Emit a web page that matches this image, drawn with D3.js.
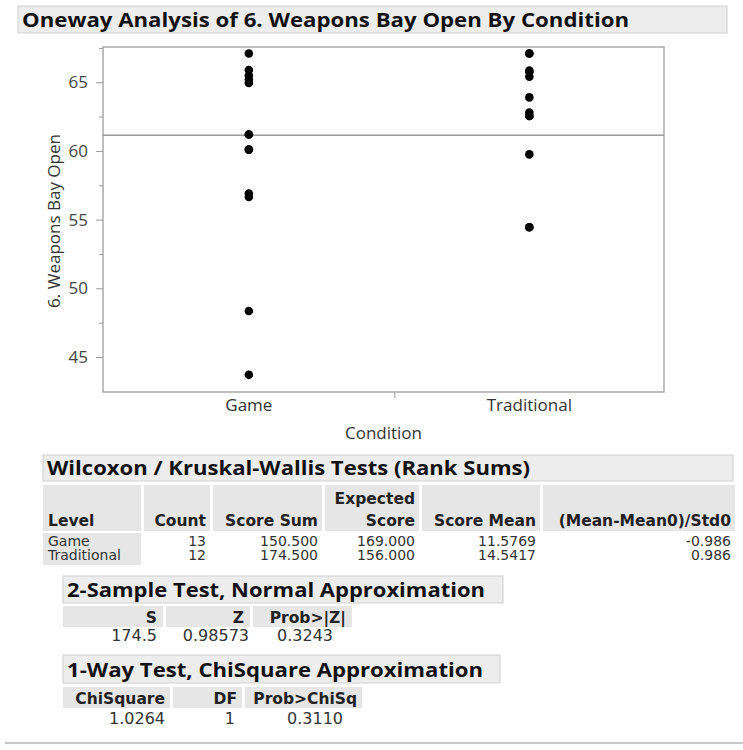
<!DOCTYPE html>
<html>
<head>
<meta charset="utf-8">
<script src="https://cdn.jsdelivr.net/npm/d3@7"></script>
<style>
	body { margin: 0; background: #fff; }
	svg text { font-family: "Open Sans", "DejaVu Sans", sans-serif; }
	svg text.tbl { font-family: "DejaVu Sans", sans-serif; }
</style>
</head>
<body>
<script>
/* Values */
var conditions = ["Game", "Traditional"];
var gameValues = [67.1, 65.9, 65.5, 65.2, 64.95, 61.2, 61.2, 60.1, 60.1, 56.9, 56.65, 48.35, 43.7];
var traditionalValues = [67.1, 67.1, 65.85, 65.75, 65.4, 63.9, 62.8, 62.55, 62.55, 59.75, 54.45, 54.45];
var yTicks = [45, 50, 55, 60, 65];
var yMinorTicks = [47.5, 52.5, 57.5, 62.5, 67.5];

var wilcoxonHead1 = ["", "", "", "Expected", "", ""];
var wilcoxonHead2 = ["Level", "Count", "Score Sum", "Score", "Score Mean", "(Mean-Mean0)/Std0"];
var wilcoxonRows = [
	["Game", "13", "150.500", "169.000", "11.5769", "-0.986"],
	["Traditional", "12", "174.500", "156.000", "14.5417", "0.986"]
];
var twoSampleHead = ["S", "Z", "Prob>|Z|"];
var twoSampleRow = ["174.5", "0.98573", "0.3243"];
var chiHead = ["ChiSquare", "DF", "Prob>ChiSq"];
var chiRow = ["1.0264", "1", "0.3110"];

var W = 743, H = 750;
var svg = d3.select("body").append("svg").attr("width", W).attr("height", H);
svg.append("rect").attr("width", W).attr("height", H).attr("fill", "#fff");

/* Outline bar with a bold heading */
function headerBar(x, y, w, h, label, len){
	svg.append("rect").attr("x", x).attr("y", y).attr("width", w).attr("height", h)
		.attr("fill", "#ededed").attr("stroke", "#d0d0d0");
	svg.append("text").attr("x", x + 4).attr("y", y + h - 6)
		.attr("font-size", 20).attr("font-weight", "bold").attr("fill", "#111")
		.attr("textLength", len).attr("lengthAdjust", "spacingAndGlyphs")
		.text(label);
}

headerBar(18, 6, 709, 27, "Oneway Analysis of 6. Weapons Bay Open By Condition", 607);

/* ---- plot ---- */
var plot = {left: 103, right: 664, top: 47, bottom: 392};
var groups = [gameValues, traditionalValues];
var counts = groups.map(function(g){ return g.length; });
var total = d3.sum(counts);

// JMP gives each level a width proportional to its count
var xc = d3.scaleLinear().domain([0, total]).range([plot.left, plot.right]);
var cum = d3.cumsum(counts);
var centers = conditions.map(function(c, i){ return xc(cum[i] - counts[i] / 2); });
var x = d3.scaleOrdinal().domain(conditions).range(centers);

var y = d3.scaleLinear().domain([42.45, 67.57]).range([plot.bottom, plot.top]);

svg.append("rect").attr("x", plot.left).attr("y", plot.top)
	.attr("width", plot.right - plot.left).attr("height", plot.bottom - plot.top)
	.attr("fill", "none").attr("stroke", "#a9a9a9").attr("stroke-width", 1.5);

var yAxis = svg.append("g").attr("transform", "translate(" + plot.left + ",0)")
	.call(d3.axisLeft(y).tickValues(yTicks).tickSize(7).tickPadding(8));
svg.append("g").attr("transform", "translate(" + plot.left + ",0)")
	.call(d3.axisLeft(y).tickValues(yMinorTicks).tickSize(4).tickFormat(""));
svg.selectAll(".domain").remove();
svg.selectAll(".tick line").attr("stroke", "#999");
yAxis.selectAll("text").attr("font-size", 17).attr("fill", "#444")
	.style("font-family", "'Open Sans', sans-serif");

// boundary tick between the levels
svg.append("line").attr("x1", xc(cum[0])).attr("x2", xc(cum[0]))
	.attr("y1", plot.bottom).attr("y2", plot.bottom + 6).attr("stroke", "#999");

svg.selectAll("text.xlab").data(conditions).enter().append("text")
	.attr("class", "xlab").attr("x", function(d){ return x(d); }).attr("y", 411)
	.attr("text-anchor", "middle").attr("font-size", 17).attr("fill", "#333")
	.text(function(d){ return d; });

svg.append("text").attr("x", (plot.left + plot.right) / 2).attr("y", 439)
	.attr("text-anchor", "middle").attr("font-size", 17).attr("fill", "#333").text("Condition");

svg.append("text").attr("transform", "translate(60,221) rotate(-90)")
	.attr("text-anchor", "middle").attr("font-size", 17).attr("fill", "#333").text("6. Weapons Bay Open");

// grand mean line
var grandMean = d3.mean(d3.merge(groups));
svg.append("line").attr("x1", plot.left).attr("x2", plot.right)
	.attr("y1", y(grandMean)).attr("y2", y(grandMean))
	.attr("stroke", "#9a9a9a").attr("stroke-width", 1.5);

var points = [];
groups.forEach(function(g, i){
	g.forEach(function(v){ points.push({cond: conditions[i], value: v}); });
});
svg.selectAll("circle.pt").data(points).enter().append("circle")
	.attr("class", "pt")
	.attr("cx", function(d){ return x(d.cond); })
	.attr("cy", function(d){ return y(d.value); })
	.attr("r", 4.3).attr("fill", "#000");

/* ---- report tables ---- */
function grayCell(x0, y0, w, h){
	svg.append("rect").attr("x", x0).attr("y", y0).attr("width", w).attr("height", h).attr("fill", "#e6e6e6");
}
function cellText(txt, xPos, yPos, anchor, bold, size){
	svg.append("text").attr("class", "tbl").attr("x", xPos).attr("y", yPos).attr("text-anchor", anchor)
		.attr("font-size", size).attr("font-weight", bold ? "bold" : "normal")
		.attr("fill", bold ? "#222" : "#333").text(txt);
}

headerBar(43, 455, 690, 26, "Wilcoxon / Kruskal-Wallis Tests (Rank Sums)", 483);
var wCols = [[43, 141], [144, 210], [213, 322], [325, 419], [422, 540], [543, 735]];
wCols.forEach(function(c, i){
	grayCell(c[0], 485, c[1] - c[0], 46);
	var anchor = i === 0 ? "start" : "end";
	var tx = i === 0 ? c[0] + 5 : c[1] - 4;
	if(wilcoxonHead1[i]) cellText(wilcoxonHead1[i], tx, 504, anchor, true, 15.5);
	cellText(wilcoxonHead2[i], tx, 526, anchor, true, 15.5);
});
grayCell(43, 533, 98, 32);
wilcoxonRows.forEach(function(row, r){
	row.forEach(function(v, i){
		var c = wCols[i];
		cellText(v, i === 0 ? c[0] + 5 : c[1] - 4, 546 + r * 14, i === 0 ? "start" : "end", false, 14);
	});
});

headerBar(63, 576, 440, 27, "2-Sample Test, Normal Approximation", 418);
var sCols = [[63, 163], [166, 250], [253, 352]];
var sValEnd = [157, 249, 333];
sCols.forEach(function(c, i){
	grayCell(c[0], 606, c[1] - c[0], 21);
	cellText(twoSampleHead[i], c[1] - 6, 623, "end", true, 15.5);
	cellText(twoSampleRow[i], sValEnd[i], 641, "end", false, 16);
});

headerBar(63, 655, 437, 28, "1-Way Test, ChiSquare Approximation", 416);
var cCols = [[63, 170], [173, 242], [245, 362]];
var cValEnd = [165, 235, 343];
cCols.forEach(function(c, i){
	grayCell(c[0], 687, c[1] - c[0], 21);
	cellText(chiHead[i], c[1] - 5, 704, "end", true, 15.5);
	cellText(chiRow[i], cValEnd[i], 724, "end", false, 16);
});

svg.append("line").attr("x1", 5).attr("x2", W).attr("y1", 743).attr("y2", 743)
	.attr("stroke", "#b5b5b5").attr("stroke-width", 1.5);
</script>
</body>
</html>
